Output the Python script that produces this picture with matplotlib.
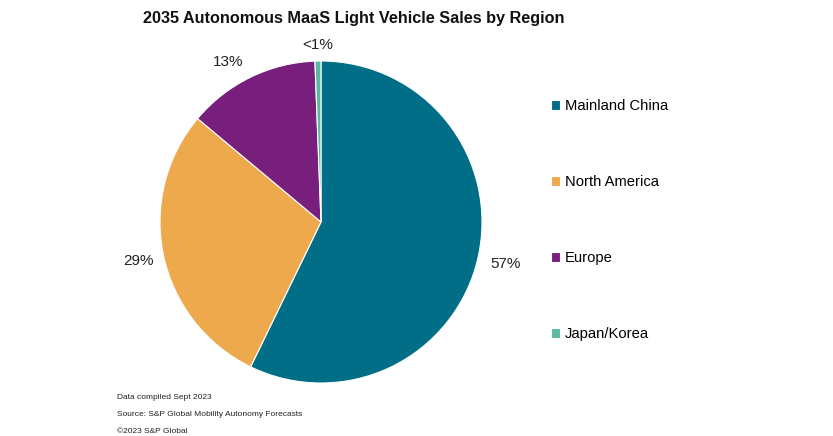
import numpy as np
import matplotlib.pyplot as plt

plt.rcParams['font.family'] = ['Liberation Sans', 'DejaVu Sans']

regions = ["Mainland China", "North America", "Europe", "Japan/Korea"]
shares = [57.2, 28.9, 13.3, 0.6]
share_labels = ["57%", "29%", "13%", "<1%"]
colors = ["#006E86", "#EFA94D", "#781F7D", "#5BB9A2"]
footer = [
    "Data compiled Sept 2023",
    "Source: S&P Global Mobility Autonomy Forecasts",
    "\u00a92023 S&P Global",
]

W, H = 833, 436
fig = plt.figure(figsize=(W / 100, H / 100), dpi=100)

# pie axes placed in pixel terms: centre (321, 222), radius 161
cx, cy, r = 321, 222, 161
ax = fig.add_axes([(cx - r) / W, (H - cy - r) / H, 2 * r / W, 2 * r / H])
wedges, texts = ax.pie(
    shares,
    labels=share_labels,
    colors=colors,
    startangle=90,
    counterclock=False,
    labeldistance=1.16,
    wedgeprops=dict(edgecolor="white", linewidth=0.8),
    textprops=dict(fontsize=11, color="#222222"),
)
# label distance / angle nudges per slice
dists = [1.175, 1.16, 1.15, 1.10]
nudge = [0, 0, 4, 0]
for w, t, d, n in zip(wedges, texts, dists, nudge):
    ang = np.deg2rad((w.theta1 + w.theta2) / 2 + n)
    t.set_position((d * np.cos(ang), d * np.sin(ang)))
    t.set_ha("center")
    t.set_va("center")
ax.set_xlim(-1, 1)
ax.set_ylim(-1, 1)
ax.set_aspect("equal")

fig.text(354 / W, 1 - 18 / H, "2035 Autonomous MaaS Light Vehicle Sales by Region",
         ha="center", va="center", fontsize=11.7, fontweight="bold", color="#111111")

leg = fig.legend(wedges, regions, loc="upper left",
                 bbox_to_anchor=(538 / W, 1 - 86 / H), frameon=False,
                 fontsize=10.6, handlelength=0.6, handleheight=0.6,
                 handletextpad=0.35, labelspacing=4.21)

for i, line in enumerate(footer):
    fig.text(117 / W, 1 - (397 + 17 * i) / H, line, ha="left", va="center",
             fontsize=6.0, color="#222222")

fig.savefig("out.png", dpi=100)
